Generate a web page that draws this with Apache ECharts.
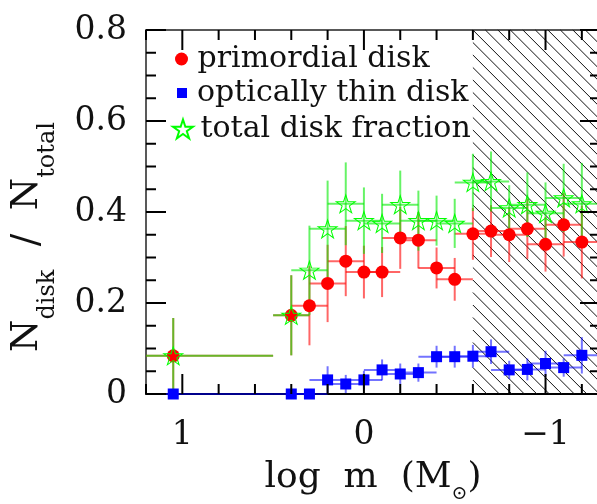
<!DOCTYPE html>
<html>
<head>
<meta charset="utf-8">
<script src="https://cdn.jsdelivr.net/npm/echarts@6/dist/echarts.min.js"></script>
<style>
  html, body { margin: 0; padding: 0; background: #fff; }
  #chart { width: 597px; height: 504px; }
</style>
</head>
<body>
<div id="chart"></div>
<script>
// Bin centres in log m (solar masses); first bin is the wide high-mass bin
const logMass = [1.05, 0.4, 0.3, 0.2, 0.1, 0, -0.1, -0.2, -0.3, -0.4, -0.5, -0.6, -0.7, -0.8, -0.9, -1.0, -1.1, -1.2];
const binHalfWidth = [0.55, 0.1, 0.1, 0.1, 0.1, 0.1, 0.1, 0.1, 0.1, 0.1, 0.1, 0.1, 0.1, 0.1, 0.1, 0.1, 0.1, 0.1];

// Primordial (optically thick) disk fraction
const primordial = [0.084, 0.173, 0.194, 0.243, 0.292, 0.268, 0.268, 0.343, 0.338, 0.277, 0.252, 0.352, 0.358, 0.350, 0.363, 0.329, 0.372, 0.334];
const primordialErr = [0.083, 0.088, 0.087, 0.085, 0.077, 0.058, 0.055, 0.068, 0.062, 0.045, 0.047, 0.057, 0.057, 0.060, 0.066, 0.060, 0.070, 0.080];

// Optically thin disk fraction
const thinDisk = [0, 0, 0, 0.031, 0.022, 0.031, 0.053, 0.044, 0.047, 0.082, 0.082, 0.083, 0.093, 0.053, 0.054, 0.067, 0.058, 0.085];
const thinDiskErr = [0, 0, 0, 0.030, 0.020, 0.020, 0.023, 0.023, 0.020, 0.024, 0.024, 0.025, 0.027, 0.020, 0.024, 0.028, 0.020, 0.040];

// Total disk fraction
const totalDisk = [0.084, 0.173, 0.272, 0.363, 0.418, 0.381, 0.375, 0.416, 0.381, 0.381, 0.375, 0.465, 0.467, 0.409, 0.416, 0.397, 0.431, 0.418];
const totalDiskErr = [0.083, 0.088, 0.098, 0.106, 0.091, 0.073, 0.065, 0.075, 0.066, 0.055, 0.054, 0.063, 0.066, 0.050, 0.071, 0.068, 0.075, 0.090];

// Sample is incomplete below this mass (hatched)
const completenessLimit = -0.6;

// Frame ticks (major ticks long, minor ticks short)
const xMajorTicks = [1, 0, -1];
const xMinorTicks = [1.2, 0.8, 0.6, 0.4, 0.2, -0.2, -0.4, -0.6, -0.8, -1.2];
const yMajorTicks = [0, 0.2, 0.4, 0.6, 0.8];
const yMinorTicks = [0.05, 0.1, 0.15, 0.25, 0.3, 0.35, 0.45, 0.5, 0.55, 0.65, 0.7, 0.75];
const xRange = [-1.3, 1.2];
const yRange = [0, 0.8];

const FONT = 'DejaVu Serif';
const STAR = 'path://M0,-100 L22.45,-30.9 L95.1,-30.9 L36.3,11.8 L58.8,80.9 L0,38.2 L-58.8,80.9 L-36.3,11.8 L-95.1,-30.9 L-22.45,-30.9 Z';
const SQUARE = 'path://M0,0 L10,0 L10,10 L0,10 Z';
const MAJOR_LEN = 20, MINOR_LEN = 10;

const names = ['primordial disk', 'optically thin disk', 'total disk fraction'];

function points(ys) { return logMass.map((x, i) => [x, ys[i]]); }
function barData(ys, errs) { return logMass.map((x, i) => [x, ys[i], binHalfWidth[i], errs[i]]); }

function clamp(v, a, b) { return Math.max(a, Math.min(b, v)); }

function errorBarRenderer(color) {
  return function (params, api) {
    const cs = params.coordSys;
    const x = api.value(0), y = api.value(1), hw = api.value(2), err = api.value(3);
    const c = api.coord([x, y]);
    const xa = clamp(api.coord([x + hw, y])[0], cs.x, cs.x + cs.width);
    const xb = clamp(api.coord([x - hw, y])[0], cs.x, cs.x + cs.width);
    const style = { stroke: color, lineWidth: 2 };
    const children = [
      { type: 'line', shape: { x1: xa, y1: c[1], x2: xb, y2: c[1] }, style: style }
    ];
    if (err > 0) {
      const yt = clamp(api.coord([x, y + err])[1], cs.y, cs.y + cs.height);
      const yb = clamp(api.coord([x, y - err])[1], cs.y, cs.y + cs.height);
      children.push({ type: 'line', shape: { x1: c[0], y1: yt, x2: c[0], y2: yb }, style: style });
    }
    return { type: 'group', children: children };
  };
}

function hatchRenderer(params, api) {
  const cs = params.coordSys;
  const left = api.coord([api.value(0), api.value(1)])[0];
  const right = cs.x + cs.width, top = cs.y, bottom = cs.y + cs.height;
  const step = 12.5;
  const c0 = top - left;
  const children = [];
  const kMin = -Math.ceil((right - left) / step) - 1;
  const kMax = Math.ceil((bottom - top) / step) + 1;
  for (let k = kMin; k <= kMax; k++) {
    const c = c0 + k * step;
    const xa = Math.max(left, top - c), xb = Math.min(right, bottom - c);
    if (xb > xa) {
      children.push({ type: 'line', shape: { x1: xa, y1: xa + c, x2: xb, y2: xb + c }, style: { stroke: '#111', lineWidth: 1 } });
    }
  }
  return { type: 'group', children: children };
}

// Inward ticks on all four edges of the frame, placed through the axis scales
function frameTickRenderer(params, api) {
  const cs = params.coordSys;
  const left = cs.x, right = cs.x + cs.width, top = cs.y, bottom = cs.y + cs.height;
  const style = { stroke: '#000', lineWidth: 2 };
  const children = [];
  function xTick(v, len) {
    const px = api.coord([v, yRange[0]])[0];
    children.push({ type: 'line', shape: { x1: px, y1: bottom, x2: px, y2: bottom - len }, style: style });
    children.push({ type: 'line', shape: { x1: px, y1: top, x2: px, y2: top + len }, style: style });
  }
  function yTick(v, len) {
    const py = api.coord([xRange[1], v])[1];
    children.push({ type: 'line', shape: { x1: left, y1: py, x2: left + len, y2: py }, style: style });
    children.push({ type: 'line', shape: { x1: right, y1: py, x2: right - len, y2: py }, style: style });
  }
  xMajorTicks.forEach(v => xTick(v, MAJOR_LEN));
  xMinorTicks.forEach(v => xTick(v, MINOR_LEN));
  yMajorTicks.forEach(v => yTick(v, MAJOR_LEN));
  yMinorTicks.forEach(v => yTick(v, MINOR_LEN));
  return { type: 'group', children: children };
}

function xLabel(v) {
  if (Math.abs(v) < 1e-9) return '0';
  return v < 0 ? '\u2212' + Math.abs(v) : String(v);
}

const baseX = { type: 'value', min: xRange[0], max: xRange[1], inverse: true, splitLine: { show: false }, axisTick: { show: false } };
const baseY = { type: 'value', min: yRange[0], max: yRange[1], interval: 0.2, splitLine: { show: false }, axisTick: { show: false }, minorTick: { show: false } };

const legendText = { fontFamily: FONT, fontSize: 30, color: '#111', lineHeight: 30 };

const option = {
  animation: false,
  backgroundColor: '#fff',
  grid: { left: 146, right: -3, top: 30, bottom: 110, containLabel: false, outerBoundsMode: 'none' },
  legend: [
    { data: [{ name: names[0], icon: 'circle' }], orient: 'vertical', left: 175, top: 44, padding: 0, itemWidth: 22, itemHeight: 13, textStyle: legendText, selectedMode: false },
    { data: [{ name: names[1], icon: SQUARE }], orient: 'vertical', left: 177, top: 78, padding: 0, itemWidth: 20, itemHeight: 10, textStyle: legendText, selectedMode: false },
    { data: [{ name: names[2], icon: STAR }], orient: 'vertical', left: 172, top: 114, padding: 0, itemWidth: 25, itemHeight: 19, textStyle: legendText, selectedMode: false }
  ],
  xAxis: [
    Object.assign({}, baseX, {
      position: 'bottom',
      axisLine: { show: true, onZero: false, lineStyle: { color: '#000', width: 2 } },
      axisLabel: { show: true, customValues: xMajorTicks, formatter: xLabel, margin: 25, fontFamily: FONT, fontSize: 33, color: '#111' },
      name: '{t|log  m  (M}{s|\u2299}{t|)}',
      nameLocation: 'middle',
      nameGap: 74,
      nameTextStyle: {
        rich: {
          t: { fontFamily: FONT, fontSize: 36, lineHeight: 36, color: '#111', verticalAlign: 'bottom', padding: [0, 0, 8, 0] },
          s: { fontFamily: FONT, fontSize: 19, lineHeight: 19, color: '#111', verticalAlign: 'bottom' }
        }
      }
    }),
    Object.assign({}, baseX, {
      position: 'top',
      axisLine: { show: true, onZero: false, lineStyle: { color: '#222', width: 1.5 } },
      axisLabel: { show: false }
    })
  ],
  yAxis: [
    Object.assign({}, baseY, {
      position: 'left',
      axisLine: { show: true, onZero: false, lineStyle: { color: '#222', width: 1.5 } },
      axisLabel: { formatter: v => (v === 0 ? '0' : v.toFixed(1)), margin: 19, fontFamily: FONT, fontSize: 33, color: '#111' },
      name: '{n|N}{s|disk}{n|  /  N}{s|total}',
      nameLocation: 'middle',
      nameGap: 86,
      nameTextStyle: {
        padding: [0, 50, 0, 0],
        rich: {
          n: { fontFamily: FONT, fontSize: 37, lineHeight: 37, color: '#111', verticalAlign: 'bottom', padding: [0, 0, 14, 0] },
          s: { fontFamily: FONT, fontSize: 24, lineHeight: 24, color: '#111', verticalAlign: 'bottom' }
        }
      }
    }),
    Object.assign({}, baseY, {
      position: 'right',
      axisLine: { show: true, onZero: false, lineStyle: { color: '#222', width: 1.5 } },
      axisLabel: { show: false }
    })
  ],
  series: [
    {
      type: 'custom', name: 'incomplete', renderItem: hatchRenderer,
      data: [[completenessLimit, yRange[0]]], encode: { x: 0, y: 1 }, silent: true, z: 1
    },
    {
      type: 'custom', name: 'frame ticks', renderItem: frameTickRenderer,
      data: [[xRange[1], yRange[0]]], encode: { x: 0, y: 1 }, silent: true, z: 6
    },
    {
      type: 'custom', name: 'primordial err', renderItem: errorBarRenderer('rgba(255,0,0,0.6)'),
      data: barData(primordial, primordialErr), encode: { x: 0, y: 1 }, silent: true, z: 2
    },
    {
      type: 'custom', name: 'thin err', renderItem: errorBarRenderer('rgba(0,0,255,0.55)'),
      data: barData(thinDisk, thinDiskErr), encode: { x: 0, y: 1 }, silent: true, z: 2
    },
    {
      type: 'custom', name: 'total err', renderItem: errorBarRenderer('rgba(0,235,0,0.6)'),
      data: barData(totalDisk, totalDiskErr), encode: { x: 0, y: 1 }, silent: true, z: 2
    },
    {
      type: 'scatter', name: names[0], data: points(primordial),
      symbol: 'circle', symbolSize: 13, itemStyle: { color: '#ff0000', opacity: 1 }, z: 3
    },
    {
      type: 'scatter', name: names[1], data: points(thinDisk),
      symbol: 'rect', symbolSize: 11, itemStyle: { color: '#0000ff', opacity: 1 }, z: 3
    },
    {
      type: 'scatter', name: names[2], data: points(totalDisk),
      symbol: STAR, symbolSize: [19, 18],
      itemStyle: { color: 'rgba(0,0,0,0)', borderColor: '#00ff00', borderWidth: 1, opacity: 1 }, z: 4
    }
  ]
};

const chart = echarts.init(document.getElementById('chart'), null, { renderer: 'canvas' });
chart.setOption(option);
</script>
</body>
</html>
